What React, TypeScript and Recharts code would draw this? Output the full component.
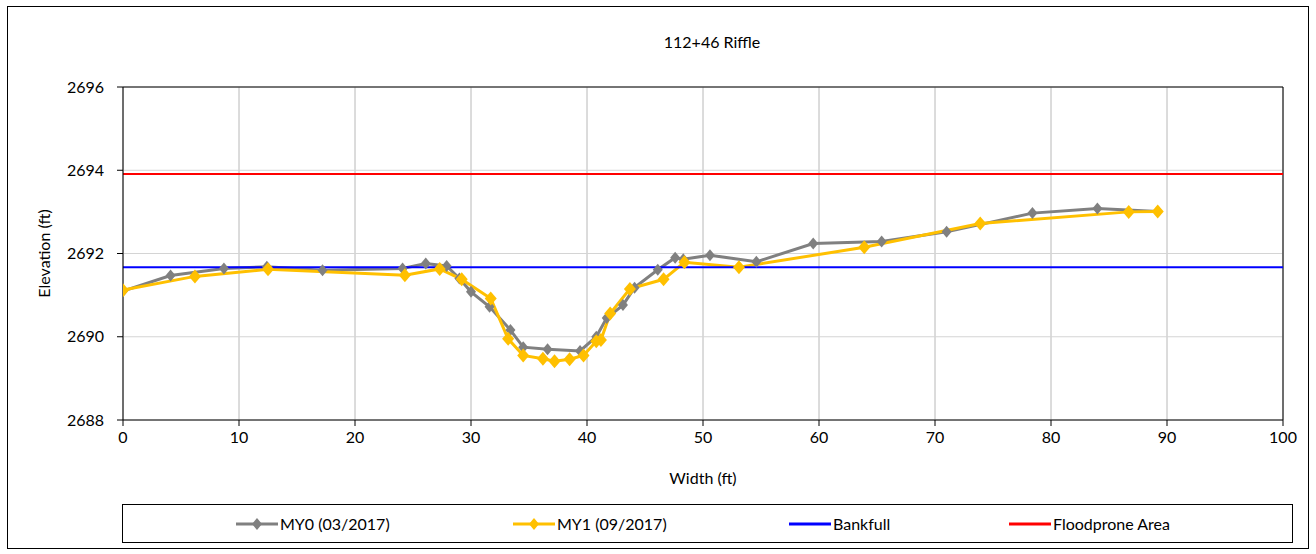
import React from 'react';
import { ComposedChart, Line, XAxis, YAxis, CartesianGrid, ReferenceLine } from 'recharts';

const xTicks = [0, 10, 20, 30, 40, 50, 60, 70, 80, 90, 100];
const yTicks = [2688, 2690, 2692, 2694, 2696];

const my0 = [
  { x: 0, y: 2691.1 }, { x: 4.1, y: 2691.47 }, { x: 8.7, y: 2691.64 }, { x: 12.4, y: 2691.68 },
  { x: 17.2, y: 2691.6 }, { x: 24.1, y: 2691.64 }, { x: 26.1, y: 2691.76 }, { x: 27.9, y: 2691.7 },
  { x: 29.0, y: 2691.4 }, { x: 30.0, y: 2691.08 }, { x: 31.6, y: 2690.72 }, { x: 33.4, y: 2690.16 },
  { x: 34.5, y: 2689.75 }, { x: 36.6, y: 2689.7 }, { x: 39.4, y: 2689.66 }, { x: 40.8, y: 2690.0 },
  { x: 41.7, y: 2690.45 }, { x: 43.1, y: 2690.76 }, { x: 44.1, y: 2691.18 }, { x: 46.1, y: 2691.61 },
  { x: 47.6, y: 2691.9 }, { x: 48.3, y: 2691.86 }, { x: 50.6, y: 2691.96 }, { x: 54.6, y: 2691.8 },
  { x: 59.5, y: 2692.24 }, { x: 65.4, y: 2692.29 }, { x: 71.0, y: 2692.52 }, { x: 78.4, y: 2692.97 },
  { x: 84.0, y: 2693.08 }, { x: 89.2, y: 2693.01 },
];

const my1 = [
  { x: 0, y: 2691.12 }, { x: 6.2, y: 2691.45 }, { x: 12.5, y: 2691.62 }, { x: 24.3, y: 2691.48 },
  { x: 27.3, y: 2691.63 }, { x: 29.2, y: 2691.38 }, { x: 31.7, y: 2690.92 }, { x: 33.2, y: 2689.95 },
  { x: 34.5, y: 2689.55 }, { x: 36.2, y: 2689.47 }, { x: 37.2, y: 2689.41 }, { x: 38.5, y: 2689.46 },
  { x: 39.7, y: 2689.55 }, { x: 40.8, y: 2689.89 }, { x: 41.2, y: 2689.92 }, { x: 42.0, y: 2690.56 },
  { x: 43.7, y: 2691.15 }, { x: 46.6, y: 2691.38 }, { x: 48.4, y: 2691.79 }, { x: 53.1, y: 2691.67 },
  { x: 63.9, y: 2692.15 }, { x: 73.9, y: 2692.72 }, { x: 86.7, y: 2693.0 }, { x: 89.2, y: 2693.01 },
];

const bankfull = [{ x: 0, y: 2691.67 }, { x: 100, y: 2691.67 }];
const floodprone = [{ x: 0, y: 2693.91 }, { x: 100, y: 2693.91 }];

const GRAY = '#808080';
const YELLOW = '#FFC000';
const BLUE = '#0000FF';
const RED = '#FF0000';
const FONT = 'Lato, "Noto Sans", sans-serif';

const makeDiamond = (color: string, w: number, h: number) => (props: any) => {
  const { cx, cy, index } = props;
  if (cx == null || cy == null) return <g key={`d-${index}`} />;
  return (
    <path
      key={`d-${index}`}
      d={`M${cx},${cy - h} L${cx + w},${cy} L${cx},${cy + h} L${cx - w},${cy} Z`}
      fill={color}
      stroke="none"
    />
  );
};

const LegendItem = ({ left, color, label, marker }: { left: number; color: string; label: string; marker: boolean }) => (
  <div style={{ position: 'absolute', left, top: 0, height: 37, display: 'flex', alignItems: 'center' }}>
    <svg width={42} height={16} style={{ display: 'block' }}>
      <line x1={0} y1={8} x2={42} y2={8} stroke={color} strokeWidth={3} />
      {marker && <path d="M21,2 L26,8 L21,14 L16,8 Z" fill={color} />}
    </svg>
    <span style={{ fontSize: 16, marginLeft: 2, whiteSpace: 'nowrap' }}>{label}</span>
  </div>
);

export default function App() {
  return (
    <div
      style={{
        position: 'absolute',
        left: 7,
        top: 6,
        width: 1302,
        height: 543,
        fontFamily: FONT,
        color: '#000',
        background: '#fff',
      }}
    >
      <div style={{ position: 'absolute', left: 605, top: 26, width: 200, textAlign: 'center', fontSize: 16, lineHeight: '20px' }}>
        112+46 Riffle
      </div>
      <div style={{ position: 'absolute', left: 1, top: 1 }}>
        <ComposedChart
          width={1300}
          height={541}
          margin={{ top: 80, right: 25, left: 30, bottom: 60 }}
          style={{ fontFamily: FONT }}
        >
          <CartesianGrid horizontal={false} vertical={true} stroke="#b8b8b8" />
          <CartesianGrid horizontal={true} vertical={false} stroke="#d4d4d4" />
          <XAxis
            type="number"
            dataKey="x"
            domain={[0, 100]}
            ticks={xTicks}
            allowDataOverflow
            stroke="#000"
            tickLine={{ stroke: '#000' }}
            tick={{ fill: '#000', fontSize: 16 }}
            tickSize={6}
            tickMargin={6}
            height={68}
            label={{ value: 'Width (ft)', position: 'insideBottom', offset: 4, fill: '#000', fontSize: 16 }}
          />
          <YAxis
            type="number"
            dataKey="y"
            domain={[2688, 2696]}
            ticks={yTicks}
            allowDataOverflow
            stroke="#000"
            tickLine={{ stroke: '#000' }}
            tick={{ fill: '#000', fontSize: 16 }}
            tickSize={6}
            tickMargin={13}
            width={85}
            label={{
              value: 'Elevation (ft)',
              angle: -90,
              position: 'insideLeft',
              offset: 6,
              fill: '#000',
              fontSize: 16,
              style: { textAnchor: 'middle' },
            }}
          />
          <ReferenceLine y={2696} stroke="#000" strokeWidth={1} />
          <ReferenceLine x={100} stroke="#000" strokeWidth={1} />
          <Line
            data={my0}
            dataKey="y"
            type="linear"
            stroke={GRAY}
            strokeWidth={3}
            dot={makeDiamond(GRAY, 5, 6)}
            activeDot={false}
            isAnimationActive={false}
            name="MY0 (03/2017)"
          />
          <Line
            data={my1}
            dataKey="y"
            type="linear"
            stroke={YELLOW}
            strokeWidth={3}
            dot={makeDiamond(YELLOW, 6, 7)}
            activeDot={false}
            isAnimationActive={false}
            name="MY1 (09/2017)"
          />
          <Line
            data={bankfull}
            dataKey="y"
            type="linear"
            stroke={BLUE}
            strokeWidth={2}
            dot={false}
            activeDot={false}
            isAnimationActive={false}
            name="Bankfull"
          />
          <Line
            data={floodprone}
            dataKey="y"
            type="linear"
            stroke={RED}
            strokeWidth={2}
            dot={false}
            activeDot={false}
            isAnimationActive={false}
            name="Floodprone Area"
          />
        </ComposedChart>
      </div>
      <div
        style={{
          position: 'absolute',
          left: 115,
          top: 498,
          width: 1171,
          height: 39,
          border: '1px solid #000',
          boxSizing: 'border-box',
        }}
      >
        <LegendItem left={113} color={GRAY} label="MY0 (03/2017)" marker />
        <LegendItem left={390} color={YELLOW} label="MY1 (09/2017)" marker />
        <LegendItem left={666} color={BLUE} label="Bankfull" marker={false} />
        <LegendItem left={886} color={RED} label="Floodprone Area" marker={false} />
      </div>
      <div
        style={{
          position: 'absolute',
          left: 0,
          top: 0,
          width: 1302,
          height: 543,
          border: '1px solid #000',
          boxSizing: 'border-box',
          pointerEvents: 'none',
        }}
      />
    </div>
  );
}
